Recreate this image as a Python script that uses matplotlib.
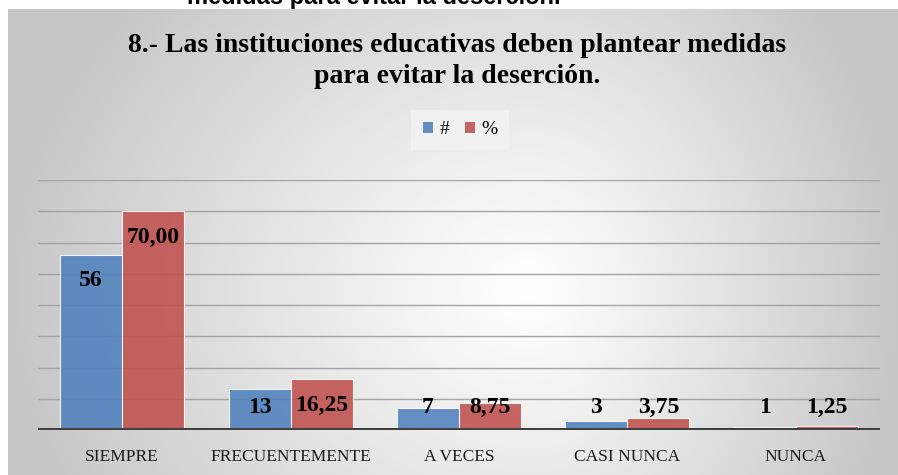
import numpy as np
import matplotlib
matplotlib.use("Agg")
import matplotlib.pyplot as plt
from matplotlib.patches import Patch

categories = ["SIEMPRE", "FRECUENTEMENTE", "A VECES", "CASI NUNCA", "NUNCA"]
counts = [56, 13, 7, 3, 1]
percents = [70.00, 16.25, 8.75, 3.75, 1.25]
count_labels = ["56", "13", "7", "3", "1"]
percent_labels = ["70,00", "16,25", "8,75", "3,75", "1,25"]
series_names = ["#", "%"]
title = "8.- Las instituciones educativas deben plantear medidas\npara evitar la deserción."
cut_text = "medidas para evitar la deserción."

W, H = 898, 475
fig = plt.figure(figsize=(W / 100, H / 100), dpi=100)
fig.patch.set_facecolor("white")

# background chart area with radial gradient
bx0, by0 = 8, 9
bg = fig.add_axes([bx0 / W, 0, (W - bx0) / W, (H - by0) / H], zorder=0)
bg.set_axis_off()
nx_px, ny_px = W - bx0, H - by0
xx, yy = np.meshgrid(np.arange(nx_px), np.arange(ny_px))
cx, cy = 530 - bx0, 290 - by0
ax_l, ax_r = cx, nx_px - cx
nx = np.where(xx < cx, (xx - cx) / ax_l, (xx - cx) / ax_r)
ny = (yy - cy) / (ny_px * 0.95)
d = np.clip(np.sqrt(nx ** 2 + ny ** 2), 0, 1)
v = 1.0 - (1.0 - 0.78) * d ** 1.1
img = np.dstack([v, v, v])
bg.imshow(img, aspect="auto", extent=[0, 1, 0, 1], interpolation="bilinear")
bg.set_xlim(0, 1)
bg.set_ylim(0, 1)

# cut-off text at the very top
fig.text(187 / W, 1 - 4 / H, cut_text, fontsize=17, fontweight="bold",
         family="Liberation Sans", color="black", ha="left", va="baseline", zorder=-1)

# main axes
left, right = 38, 880
top, bottom = 180, 430
ax = fig.add_axes([left / W, (H - bottom) / H, (right - left) / W, (bottom - top) / H], zorder=2)
ax.set_facecolor("none")
ax.set_ylim(0, 80)
ax.set_xlim(-0.5, len(categories) - 0.5)
ax.set_yticks(np.arange(0, 81, 10))
ax.yaxis.grid(True, color="#a3a3a3", linewidth=1.0)
ax.set_axisbelow(True)
for s in ax.spines.values():
    s.set_visible(False)
ax.tick_params(axis="y", left=False, labelleft=False)
ax.tick_params(axis="x", bottom=False, pad=10)

x = np.arange(len(categories))
w = 0.368
ax.bar(x - w / 2, counts, w, color="#4F81BD", alpha=0.88, edgecolor="white", linewidth=0.8, zorder=3)
ax.bar(x + w / 2, percents, w, color="#C0504D", alpha=0.88, edgecolor="white", linewidth=0.8, zorder=3)
ax.axhline(0, color="#404040", linewidth=2.9, zorder=4)

ax.set_xticks(x)
ax.set_xticklabels(categories, family="Liberation Serif", fontsize=12.5, color="#1a1a1a")

for xi, vals, labs in [(x - w / 2, counts, count_labels), (x + w / 2, percents, percent_labels)]:
    for xp, val, lab in zip(xi, vals, labs):
        ax.text(xp, max(val - 8.3, 7.2), lab, ha="center", va="center",
                family="Liberation Serif", fontweight="bold", fontsize=17, color="black", zorder=5)

fig.text(457 / W, 1 - 61 / H, title, ha="center", va="center", multialignment="center",
         family="Liberation Serif", fontweight="bold", fontsize=20, linespacing=1.32, color="black")

handles = [Patch(facecolor="#4F81BD", alpha=0.88), Patch(facecolor="#C0504D", alpha=0.88)]
leg = fig.legend(handles, series_names, loc="center", bbox_to_anchor=(460 / W, 1 - 130 / H),
                 ncol=2, frameon=True, fancybox=False, handlelength=0.55, handleheight=0.55,
                 handletextpad=0.3, columnspacing=0.8, borderpad=0.6,
                 prop={"family": "Liberation Serif", "size": 14})
leg.get_frame().set_facecolor("#f3f3f3")
leg.get_frame().set_edgecolor("none")

fig.savefig("out.png", dpi=100)
